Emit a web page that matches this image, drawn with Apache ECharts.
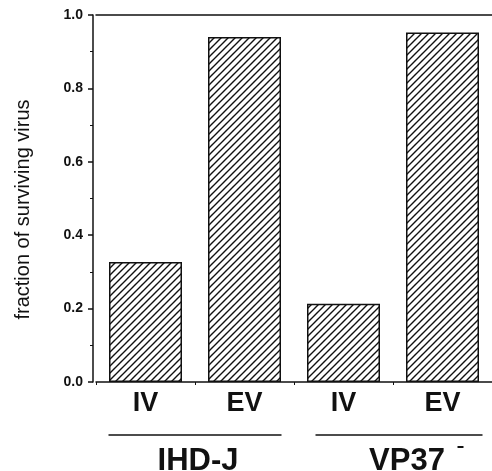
<!DOCTYPE html>
<html>
<head>
<meta charset="utf-8">
<script src="https://cdn.jsdelivr.net/npm/echarts@6/dist/echarts.min.js"></script>
<style>
  html, body { margin: 0; padding: 0; background: #fff; }
  #main { width: 492px; height: 471px; }
</style>
</head>
<body>
<div id="main"></div>
<script>
// data
var categories = ['IV', 'EV', 'IV', 'EV'];
var survival = [0.327, 0.940, 0.213, 0.952];
var groups = ['IHD-J', 'VP37'];
var groupSpan = [[0, 1], [2, 3]];   // category index range under each group
var yTicks = [0, 0.2, 0.4, 0.6, 0.8, 1.0];

var FONT = '"Liberation Sans", Arial, Helvetica, sans-serif';

// hatch pattern for the bars (diagonal lines)
function hatch() {
    var c = document.createElement('canvas');
    c.width = 7; c.height = 7;
    var g = c.getContext('2d');
    g.fillStyle = '#fff';
    g.fillRect(0, 0, 7, 7);
    g.strokeStyle = '#111';
    g.lineWidth = 1.4;
    g.beginPath();
    g.moveTo(-1, 8); g.lineTo(8, -1);
    g.moveTo(-1, 1); g.lineTo(1, -1);
    g.moveTo(6, 8); g.lineTo(8, 6);
    g.stroke();
    return c;
}

var myChart = echarts.init(document.getElementById('main'));

var option = {
    animation: false,
    backgroundColor: '#fff',
    grid: { left: 96, top: 15, width: 400, bottom: 89 },
    xAxis: [{
        type: 'category',
        data: categories,
        axisLine: { lineStyle: { color: '#111', width: 1.5 } },
        axisTick: { show: true, length: 3, lineStyle: { color: '#111' } },
        axisLabel: {
            margin: 8, color: '#111', fontSize: 27, fontWeight: 'bold', fontFamily: FONT
        }
    }, {
        // top frame line
        type: 'category',
        position: 'top',
        data: categories,
        axisLine: { lineStyle: { color: '#111', width: 1.5 } },
        axisTick: { show: false },
        axisLabel: { show: false }
    }],
    yAxis: {
        type: 'value',
        min: 0, max: 1, interval: 0.2,
        offset: 3,
        name: 'fraction of surviving virus',
        nameLocation: 'middle',
        nameRotate: 90,
        nameGap: 60,
        nameTextStyle: { color: '#111', fontSize: 20, fontFamily: FONT, padding: [0, 22, 0, 0] },
        axisLine: { show: true, lineStyle: { color: '#111', width: 1.5 } },
        axisTick: { show: true, length: 5, lineStyle: { color: '#111', width: 1.5 } },
        minorTick: { show: true, splitNumber: 2, length: 3, lineStyle: { color: '#111' } },
        splitLine: { show: false },
        axisLabel: {
            margin: 10, color: '#111', fontSize: 14, fontWeight: 'bold', fontFamily: FONT,
            formatter: function (v) { return v.toFixed(1); }
        }
    },
    series: [{
        type: 'bar',
        data: survival,
        barWidth: 73,
        itemStyle: {
            color: { image: hatch(), repeat: 'repeat' },
            borderColor: '#111',
            borderWidth: 1.5
        }
    }]
};
myChart.setOption(option);

// group underlines and labels, placed from the category positions
var half = 37;
var lineInset = [[0, 0], [9, 3]];
var textShift = [3, 14];
var gfx = [];
groupSpan.forEach(function (s, i) {
    var x0 = myChart.convertToPixel({ xAxisIndex: 0 }, s[0]) - half;
    var x1 = myChart.convertToPixel({ xAxisIndex: 0 }, s[1]) + half;
    var y0 = myChart.convertToPixel({ yAxisIndex: 0 }, 0);
    gfx.push({
        type: 'line',
        shape: { x1: x0 + lineInset[i][0], y1: y0 + 53, x2: x1 + lineInset[i][1], y2: y0 + 53 },
        style: { stroke: '#111', lineWidth: 1.5 }
    });
    gfx.push({
        type: 'text',
        x: (x0 + x1) / 2 + textShift[i], y: y0 + 64,
        style: {
            text: groups[i], font: 'bold 31px ' + FONT, fill: '#111',
            textAlign: 'center', textVerticalAlign: 'top'
        }
    });
});
// superscript minus after VP37
var vpRight = myChart.convertToPixel({ xAxisIndex: 0 }, groupSpan[1][1]) + half;
gfx.push({
    type: 'line',
    shape: { x1: vpRight - 22, y1: 447, x2: vpRight - 16, y2: 447 },
    style: { stroke: '#111', lineWidth: 2 }
});
myChart.setOption({ graphic: gfx });
</script>
</body>
</html>
